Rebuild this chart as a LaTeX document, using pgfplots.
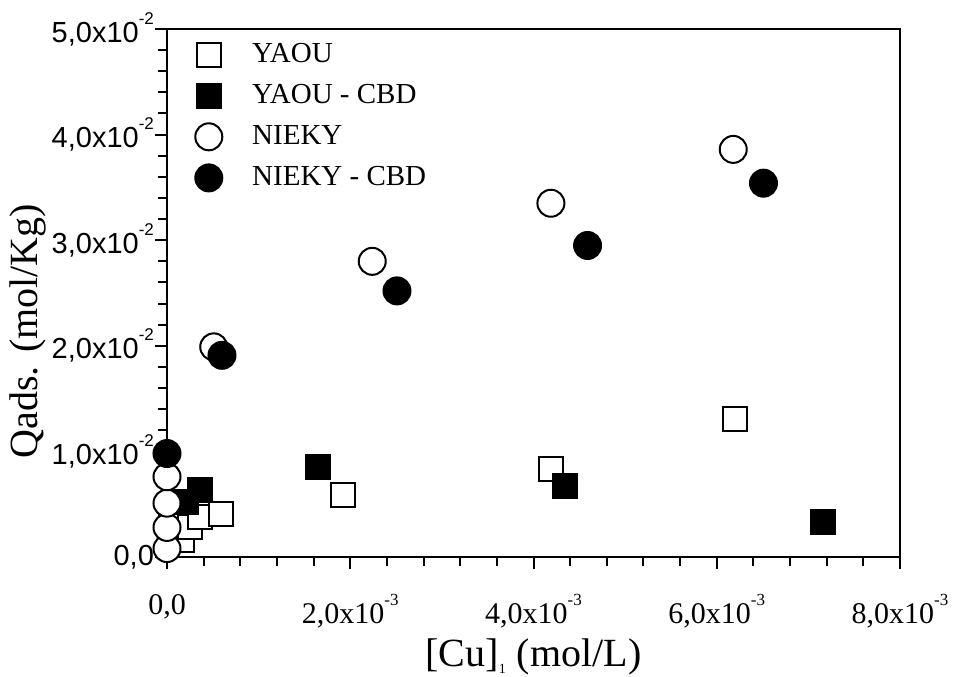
\documentclass[border=0pt]{standalone}
\usepackage{pgfplots}
\pgfplotsset{compat=1.18}
\usepackage{fontspec}
\setmainfont{Liberation Serif}
\newfontfamily\arial{Liberation Sans}
\newcommand{\sx}[1]{\raisebox{0.62em}{\fontsize{8.5}{9}\selectfont #1}}
\newcommand{\sy}[1]{\raisebox{0.62em}{\fontsize{8.5}{9}\selectfont #1}}

\begin{document}
\begin{tikzpicture}
\begin{axis}[
  scale only axis, width=366.5pt, height=264pt,
  xmin=0, xmax=0.008, ymin=0, ymax=0.05,
  clip=false,
  axis line style={line width=1pt},
  tick pos=left, tick align=outside,
  scaled ticks=false,
  xtick={0,0.002,0.004,0.006,0.008},
  xticklabels={{\raisebox{7pt}{0,0}},{2,0x10\sx{-3}},{4,0x10\sx{-3}},{6,0x10\sx{-3}},{8,0x10\sx{-3}}},
  ytick={0,0.01,0.02,0.03,0.04,0.05},
  yticklabels={{0,0},{1,0x10\sy{-2}},{2,0x10\sy{-2}},{3,0x10\sy{-2}},{4,0x10\sy{-2}},{5,0x10\sy{-2}}},
  minor x tick num=4, minor y tick num=4,
  major tick length=6pt, minor tick length=4.5pt,
  every tick/.style={line width=1pt, black},
  xticklabel style={font=\fontsize{15}{18}\selectfont, yshift=-9pt},
  yticklabel style={font=\arial\fontsize{14.5}{18}\selectfont, xshift=3pt},
  xlabel={[Cu]\textsubscript{\fontsize{7}{8}\selectfont 1} (mol/L)},
  ylabel={Qads. (mol/Kg)},
  every axis x label/.style={at={(axis description cs:0.5,-0.208)}, anchor=base, font=\fontsize{20}{24}\selectfont},
  every axis y label/.style={at={(axis description cs:-0.19,0.428)}, rotate=90, anchor=center, font=\fontsize{20}{24}\selectfont},
  legend style={draw=none, fill=none, at={(axis description cs:0,1)}, anchor=north west,
    font=\fontsize{14.5}{16}\selectfont, row sep=5.5pt, inner sep=0pt, yshift=-5pt},
  legend cell align=left,
  legend image code/.code={\path (0pt,0pt) (40pt,0pt); \draw[#1] plot coordinates {(20.5pt,0pt)};},
]
\addplot[only marks, mark=square*, mark size=6pt, mark options={fill=white, draw=black, line width=1pt}]
  coordinates {(0.00016,0.0016) (0.00025,0.0028) (0.00036,0.0038) (0.00059,0.0041) (0.00192,0.0059) (0.00419,0.0083) (0.0062,0.0131)};
\addlegendentry{YAOU}
\addplot[only marks, mark=square*, mark size=6pt, mark options={fill=black, draw=black, line width=1pt}]
  coordinates {(0.00021,0.0052) (0.00036,0.0063) (0.00165,0.0085) (0.00434,0.0067) (0.00716,0.0033)};
\addlegendentry{YAOU - CBD}
\addplot[only marks, mark=*, mark size=6.75pt, mark options={fill=white, draw=black, line width=1pt}]
  coordinates {(0,0.0008) (0,0.0028) (0,0.0051) (0,0.0076) (0.00051,0.0199) (0.00224,0.0280) (0.00419,0.0335) (0.00618,0.0386)};
\addlegendentry{NIEKY}
\addplot[only marks, mark=*, mark size=6.75pt, mark options={fill=black, draw=black, line width=1pt}]
  coordinates {(0,0.0098) (0.00060,0.0191) (0.00251,0.0252) (0.00459,0.0295) (0.00651,0.0354)};
\addlegendentry{NIEKY - CBD}
\end{axis}
\pgfresetboundingbox
\path ([shift={(-83.5pt,-59.5pt)}]current axis.south west) rectangle ([shift={(27pt,14.5pt)}]current axis.north east);
\end{tikzpicture}
\end{document}
